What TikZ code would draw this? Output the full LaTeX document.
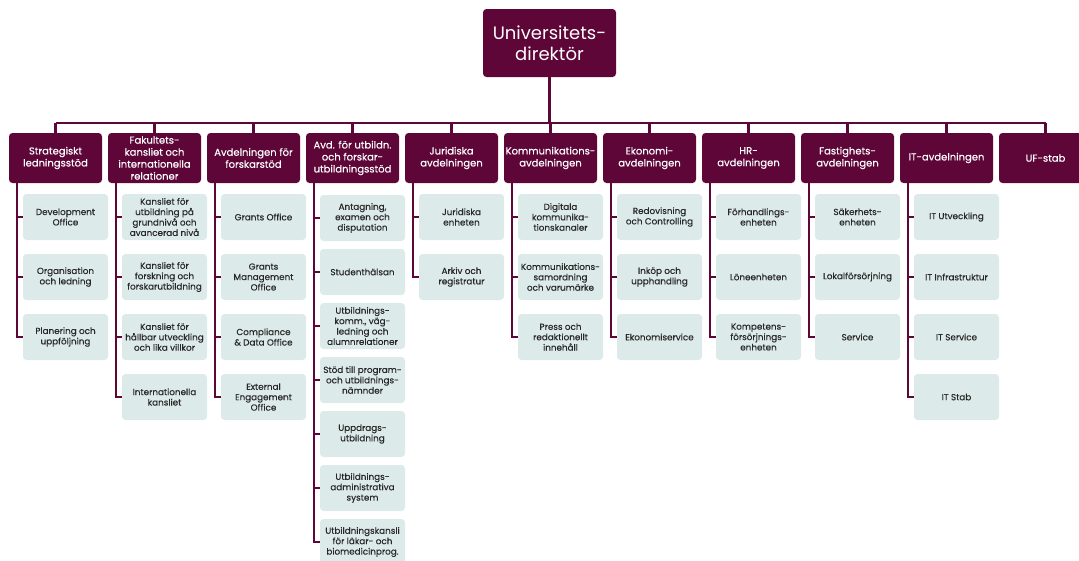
\documentclass[tikz,border=0pt]{standalone}
\usepackage{fontspec}
\setmainfont{Poppins}
\newfontfamily\halvfet{Poppins}[FakeBold=0.35]
\definecolor{vinrod}{RGB}{94,6,56}
\definecolor{mint}{RGB}{220,235,233}
\definecolor{textgra}{RGB}{40,40,40}
\tikzset{
  chef/.style={fill=vinrod, text=white, rounded corners=3.5pt, minimum width=133pt,
    minimum height=68pt, align=center, font=\fontsize{18}{21}\selectfont},
  avd/.style={fill=vinrod, text=white, rounded corners=3.5pt, minimum width=93pt,
    minimum height=50pt, inner sep=1pt, align=center, font=\halvfet\fontsize{10}{12}\selectfont},
  enhet/.style={fill=mint, text=textgra, rounded corners=3.5pt, minimum width=85pt,
    minimum height=46pt, inner sep=1pt, align=center, font=\halvfet\fontsize{8.8}{10.4}\selectfont},
  linje/.style={draw=vinrod, line width=2.4pt},
  gren/.style={draw=vinrod, line width=2.4pt}
}
\begin{document}
\begin{tikzpicture}[x=1pt,y=-1pt]
\useasboundingbox (0,0) rectangle (1079,560);
\clip (0,0) rectangle (1079,560);
\coordinate (buss) at (0,123);
% ledning
\node[chef] (dir) at (549.5,43) {Universitets-\\direktör};
% avdelningar
\node[avd] (sls) at (55.5,158) {Strategiskt\\ledningsstöd};
\node[avd] (fak) at (154.5,158) {Fakultets-\\kansliet och\\internationella\\relationer};
\node[avd] (fst) at (253.5,158) {Avdelningen för\\forskarstöd};
\node[avd] (utb) at (352.5,158) {Avd. för utbildn.\\och forskar-\\utbildningsstöd};
\node[avd] (jur) at (451.5,158) {Juridiska\\avdelningen};
\node[avd] (kom) at (550.5,158) {Kommunikations-\\avdelningen};
\node[avd] (eko) at (649.5,158) {Ekonomi-\\avdelningen};
\node[avd] (hr) at (748.5,158) {HR-\\avdelningen};
\node[avd] (fas) at (847.5,158) {Fastighets-\\avdelningen};
\node[avd] (it) at (946.5,158) {IT-avdelningen};
\node[avd] (ufs) at (1045.5,158) {UF-stab};
\draw[linje] (dir.south) -- (dir.south |- buss);
\draw[linje] (sls.north |- buss) -- (ufs.north |- buss);
\draw[linje] (sls.north |- buss) -- (sls.north);
\draw[linje] (fak.north |- buss) -- (fak.north);
\draw[linje] (fst.north |- buss) -- (fst.north);
\draw[linje] (utb.north |- buss) -- (utb.north);
\draw[linje] (jur.north |- buss) -- (jur.north);
\draw[linje] (kom.north |- buss) -- (kom.north);
\draw[linje] (eko.north |- buss) -- (eko.north);
\draw[linje] (hr.north |- buss) -- (hr.north);
\draw[linje] (fas.north |- buss) -- (fas.north);
\draw[linje] (it.north |- buss) -- (it.north);
\draw[linje] (ufs.north |- buss) -- (ufs.north);
% enheter
\node[enhet] (sls1) at (65.5,217) {Development\\Office};
\node[enhet] (sls2) at (65.5,277) {Organisation\\och ledning};
\node[enhet] (sls3) at (65.5,337) {Planering och\\uppföljning};
\node[enhet] (fak1) at (164.5,217) {Kansliet för\\utbildning på\\grundnivå och\\avancerad nivå};
\node[enhet] (fak2) at (164.5,277) {Kansliet för\\forskning och\\forskarutbildning};
\node[enhet] (fak3) at (164.5,337) {Kansliet för\\hållbar utveckling\\och lika villkor};
\node[enhet] (fak4) at (164.5,397) {Internationella\\kansliet};
\node[enhet] (fst1) at (263.5,217) {Grants Office};
\node[enhet] (fst2) at (263.5,277) {Grants\\Management\\Office};
\node[enhet] (fst3) at (263.5,337) {Compliance\\\& Data Office};
\node[enhet] (fst4) at (263.5,397) {External\\Engagement\\Office};
\node[enhet] (utb1) at (362.5,218) {Antagning,\\examen och\\disputation};
\node[enhet] (utb2) at (362.5,272) {Studenthälsan};
\node[enhet] (utb3) at (362.5,326) {Utbildnings-\\komm., väg-\\ledning och\\alumnrelationer};
\node[enhet] (utb4) at (362.5,380) {Stöd till program-\\och utbildnings-\\nämnder};
\node[enhet] (utb5) at (362.5,434) {Uppdrags-\\utbildning};
\node[enhet] (utb6) at (362.5,488) {Utbildnings-\\administrativa\\system};
\node[enhet] (utb7) at (362.5,542) {Utbildningskansli\\för läkar- och\\biomedicinprog.};
\node[enhet] (jur1) at (461.5,217) {Juridiska\\enheten};
\node[enhet] (jur2) at (461.5,277) {Arkiv och\\registratur};
\node[enhet] (kom1) at (560.5,217) {Digitala\\kommunika-\\tionskanaler};
\node[enhet] (kom2) at (560.5,277) {Kommunikations-\\samordning\\och varumärke};
\node[enhet] (kom3) at (560.5,337) {Press och\\redaktionellt\\innehåll};
\node[enhet] (eko1) at (659.5,217) {Redovisning\\och Controlling};
\node[enhet] (eko2) at (659.5,277) {Inköp och\\upphandling};
\node[enhet] (eko3) at (659.5,337) {Ekonomiservice};
\node[enhet] (hr1) at (758.5,217) {Förhandlings-\\enheten};
\node[enhet] (hr2) at (758.5,277) {Löneenheten};
\node[enhet] (hr3) at (758.5,337) {Kompetens-\\försörjnings-\\enheten};
\node[enhet] (fas1) at (857.5,217) {Säkerhets-\\enheten};
\node[enhet] (fas2) at (857.5,277) {Lokalförsörjning};
\node[enhet] (fas3) at (857.5,337) {Service};
\node[enhet] (it1) at (956.5,217) {IT Utveckling};
\node[enhet] (it2) at (956.5,277) {IT Infrastruktur};
\node[enhet] (it3) at (956.5,337) {IT Service};
\node[enhet] (it4) at (956.5,397) {IT Stab};
% grenar
\draw[gren] ([xshift=-38.5pt]sls.south) |- (sls1.west);
\draw[gren] ([xshift=-38.5pt]sls.south) |- (sls2.west);
\draw[gren] ([xshift=-38.5pt]sls.south) |- (sls3.west);
\draw[gren] ([xshift=-38.5pt]fak.south) |- (fak1.west);
\draw[gren] ([xshift=-38.5pt]fak.south) |- (fak2.west);
\draw[gren] ([xshift=-38.5pt]fak.south) |- (fak3.west);
\draw[gren] ([xshift=-38.5pt]fak.south) |- (fak4.west);
\draw[gren] ([xshift=-38.5pt]fst.south) |- (fst1.west);
\draw[gren] ([xshift=-38.5pt]fst.south) |- (fst2.west);
\draw[gren] ([xshift=-38.5pt]fst.south) |- (fst3.west);
\draw[gren] ([xshift=-38.5pt]fst.south) |- (fst4.west);
\draw[gren] ([xshift=-38.5pt]utb.south) |- (utb1.west);
\draw[gren] ([xshift=-38.5pt]utb.south) |- (utb2.west);
\draw[gren] ([xshift=-38.5pt]utb.south) |- (utb3.west);
\draw[gren] ([xshift=-38.5pt]utb.south) |- (utb4.west);
\draw[gren] ([xshift=-38.5pt]utb.south) |- (utb5.west);
\draw[gren] ([xshift=-38.5pt]utb.south) |- (utb6.west);
\draw[gren] ([xshift=-38.5pt]utb.south) |- (utb7.west);
\draw[gren] ([xshift=-38.5pt]jur.south) |- (jur1.west);
\draw[gren] ([xshift=-38.5pt]jur.south) |- (jur2.west);
\draw[gren] ([xshift=-38.5pt]kom.south) |- (kom1.west);
\draw[gren] ([xshift=-38.5pt]kom.south) |- (kom2.west);
\draw[gren] ([xshift=-38.5pt]kom.south) |- (kom3.west);
\draw[gren] ([xshift=-38.5pt]eko.south) |- (eko1.west);
\draw[gren] ([xshift=-38.5pt]eko.south) |- (eko2.west);
\draw[gren] ([xshift=-38.5pt]eko.south) |- (eko3.west);
\draw[gren] ([xshift=-38.5pt]hr.south) |- (hr1.west);
\draw[gren] ([xshift=-38.5pt]hr.south) |- (hr2.west);
\draw[gren] ([xshift=-38.5pt]hr.south) |- (hr3.west);
\draw[gren] ([xshift=-38.5pt]fas.south) |- (fas1.west);
\draw[gren] ([xshift=-38.5pt]fas.south) |- (fas2.west);
\draw[gren] ([xshift=-38.5pt]fas.south) |- (fas3.west);
\draw[gren] ([xshift=-38.5pt]it.south) |- (it1.west);
\draw[gren] ([xshift=-38.5pt]it.south) |- (it2.west);
\draw[gren] ([xshift=-38.5pt]it.south) |- (it3.west);
\draw[gren] ([xshift=-38.5pt]it.south) |- (it4.west);
\end{tikzpicture}
\end{document}
